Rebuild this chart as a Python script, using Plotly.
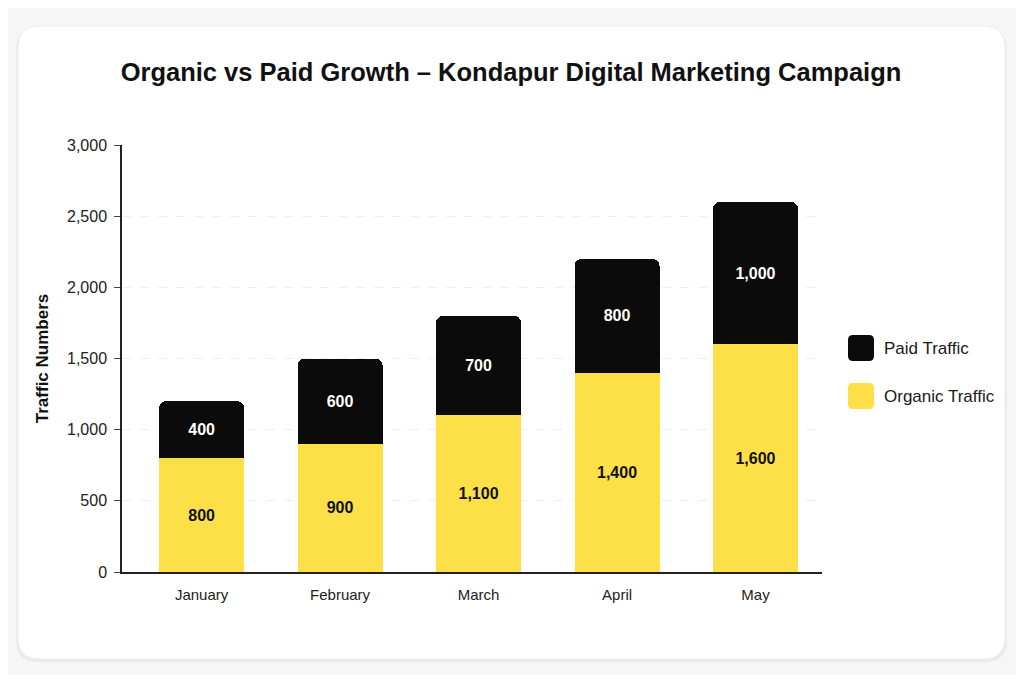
import plotly.graph_objects as go

# data
months = ['January', 'February', 'March', 'April', 'May']
organic = [800, 900, 1100, 1400, 1600]
paid = [400, 600, 700, 800, 1000]
series_names = ['Paid Traffic', 'Organic Traffic']
y_ticks = [0, 500, 1000, 1500, 2000, 2500, 3000]

YELLOW = '#FDE047'
BLACK = '#0b0b0b'
FONT = 'Liberation Sans, Arial, sans-serif'

# the page puts the figure 8px in from the top left corner
OFF = 8
W, H = 1024 - 2 * OFF, 683 - 2 * OFF
L, R, T, B = 122 - OFF, 1024 - 822 - OFF, 145 - OFF, 683 - 572 - OFF


def px(x):
    # window pixel x -> paper x
    return (x - OFF - L) / (W - L - R)


def py(y):
    # window pixel y -> paper y
    return (H - B - (y - OFF)) / (H - T - B)


def rounded_rect(x0, y0, x1, y1, r):
    '''
    svg path for a rounded rectangle, window pixels converted to paper coords
    '''
    pts = [
        ('M', x0 + r, y0), ('L', x1 - r, y0), ('Q', x1, y0, x1, y0 + r),
        ('L', x1, y1 - r), ('Q', x1, y1, x1 - r, y1), ('L', x0 + r, y1),
        ('Q', x0, y1, x0, y1 - r), ('L', x0, y0 + r), ('Q', x0, y0, x0 + r, y0),
    ]
    out = []
    for p in pts:
        cmd = p[0]
        coords = p[1:]
        pairs = []
        for i in range(0, len(coords), 2):
            pairs.append('%.5f,%.5f' % (px(coords[i]), py(coords[i + 1])))
        out.append(cmd + ' '.join(pairs))
    return ' '.join(out) + ' Z'


fig = go.Figure()
fig.add_trace(go.Bar(
    x=months, y=organic, name=series_names[1],
    marker=dict(color=YELLOW, line=dict(width=0)),
    text=['{:,}'.format(v) for v in organic], textposition='inside',
    insidetextanchor='middle', textangle=0,
    textfont=dict(color='#111111', size=16, family=FONT, weight='bold'),
    showlegend=False,
))
fig.add_trace(go.Bar(
    x=months, y=paid, name=series_names[0],
    marker=dict(color=BLACK, line=dict(width=0)),
    text=['{:,}'.format(v) for v in paid], textposition='inside',
    insidetextanchor='middle', textangle=0,
    textfont=dict(color='white', size=16, family=FONT, weight='bold'),
    showlegend=False,
))

shapes = [
    # card shadow and card
    dict(type='path', xref='paper', yref='paper', layer='below',
         path=rounded_rect(16, 28, 1007, 662, 22),
         fillcolor='#ebebeb', line=dict(width=0)),
    dict(type='path', xref='paper', yref='paper', layer='below',
         path=rounded_rect(18, 26, 1005, 659, 22),
         fillcolor='white', line=dict(color='#eeeeee', width=1)),
]

# legend drawn by hand so the swatches can be big rounded squares
annotations = []
legend_colors = [BLACK, YELLOW]
for i, name in enumerate(series_names):
    cy = 348 + i * 48
    shapes.append(dict(type='path', xref='paper', yref='paper',
                       path=rounded_rect(848, cy - 13, 874, cy + 13, 5),
                       fillcolor=legend_colors[i], line=dict(width=0)))
    annotations.append(dict(x=px(882), y=py(cy), xref='paper', yref='paper',
                            text=name, showarrow=False, xanchor='left',
                            yanchor='middle',
                            font=dict(size=17, color='#1a1a1a', family=FONT)))

fig.update_layout(
    width=W, height=H,
    margin=dict(l=L, r=R, t=T, b=B),
    barmode='stack',
    bargap=0.386,
    barcornerradius=7,
    paper_bgcolor='#f6f6f6',
    plot_bgcolor='rgba(0,0,0,0)',
    font=dict(family=FONT, color='#222222'),
    title=dict(text='<b>Organic vs Paid Growth – Kondapur Digital Marketing Campaign</b>',
               x=px(511), xref='paper', xanchor='center',
               y=1 - (72 - OFF) / H, yanchor='middle',
               font=dict(size=25.5, color='#111111', family=FONT)),
    xaxis=dict(range=[-0.575, 4.48], showline=True, linecolor='#222222',
               linewidth=1.5, ticks='', showgrid=False,
               tickfont=dict(size=15, color='#222222'), ticklabelstandoff=8),
    yaxis=dict(range=[0, 3000], tickvals=y_ticks, tickformat=',',
               showline=True, linecolor='#222222', linewidth=1.5,
               ticks='outside', ticklen=6, tickcolor='#444444',
               showgrid=True, gridcolor='#efefef', griddash='dash', gridwidth=1,
               zeroline=False, tickfont=dict(size=16, color='#222222'),
               ticklabelstandoff=4,
               title=dict(text='<b>Traffic Numbers</b>', standoff=14,
                          font=dict(size=17, color='#111111'))),
    shapes=shapes,
    annotations=annotations,
)

fig.write_html('out.html')
